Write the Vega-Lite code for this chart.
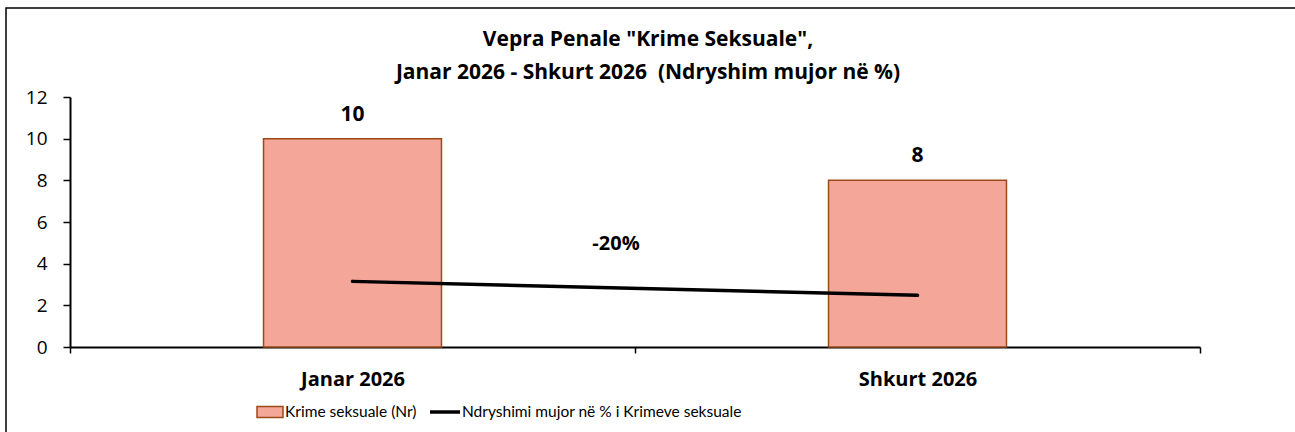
{
  "$schema": "https://vega.github.io/schema/vega-lite/v6.json",
  "width": 1300,
  "height": 430,
  "autosize": "none",
  "padding": {"left": 6, "top": 8, "right": 0, "bottom": 0},
  "background": "white",
  "config": {
    "view": {"stroke": "#000000", "strokeWidth": 1.5},
    "font": "Open Sans",
    "axis": {"labelColor": "#000000", "domainColor": "#000000", "tickColor": "#000000"}
  },
  "title": {
    "text": ["Vepra Penale \"Krime Seksuale\",", "Janar 2026 - Shkurt 2026 \u00a0(Ndryshim mujor në %)"],
    "font": "Open Sans",
    "fontSize": 21,
    "fontWeight": "bold",
    "color": "#000000",
    "anchor": "middle",
    "lineHeight": 33,
    "dx": -8,
    "offset": -75
  },
  "data": {
    "values": [
      {"month": "Janar 2026", "crimes": 10, "change": 3.15, "pct": ""},
      {"month": "Shkurt 2026", "crimes": 8, "change": 2.48, "pct": "-20%"}
    ]
  },
  "encoding": {
    "x": {
      "field": "month",
      "type": "nominal",
      "sort": null,
      "scale": {"range": [64, 1194], "paddingInner": 0, "paddingOuter": 0},
      "axis": {
        "title": null,
        "orient": "bottom",
        "offset": -91,
        "labelAngle": 0,
        "tickBand": "extent",
        "tickSize": 6,
        "tickWidth": 1.5,
        "domainWidth": 2,
        "labelPadding": 16,
        "labelFontSize": 20,
        "labelFontWeight": "bold",
        "labelFont": "Open Sans"
      }
    }
  },
  "layer": [
    {
      "mark": {"type": "bar", "width": {"band": 0.315}, "stroke": "#9C4A1A", "strokeWidth": 1.5, "opacity": 1},
      "encoding": {
        "y": {
          "field": "crimes",
          "type": "quantitative",
          "scale": {"domain": [0, 12], "range": [339, 89], "nice": false},
          "axis": {
            "title": null,
            "values": [0, 2, 4, 6, 8, 10, 12],
            "offset": -64,
            "grid": false,
            "domainWidth": 2,
            "tickSize": 7,
            "tickWidth": 1.5,
            "labelPadding": 16,
            "labelFontSize": 19,
            "labelFont": "Open Sans"
          }
        },
        "fill": {
          "datum": "Krime seksuale (Nr)",
          "type": "nominal",
          "scale": {"range": ["#F4A698"]},
          "legend": {
            "title": null,
            "orient": "none",
            "legendX": 250,
            "legendY": 390,
            "padding": 0,
            "labelFontSize": 15.5,
            "labelFont": "Lato",
            "labelColor": "#000000",
            "labelOffset": 1,
            "labelLimit": 0,
            "symbolType": "M-1,-0.42H1V0.42H-1Z",
            "symbolSize": 676,
            "symbolStrokeColor": "#9C4A1A",
            "symbolStrokeWidth": 1.5,
            "symbolOpacity": 1
          }
        }
      }
    },
    {
      "mark": {"type": "text", "fontSize": 21, "fontWeight": "bold", "font": "Open Sans", "baseline": "middle", "dy": -24, "color": "#000000"},
      "encoding": {
        "y": {"field": "crimes", "type": "quantitative"},
        "text": {"field": "crimes", "type": "quantitative"}
      }
    },
    {
      "mark": {"type": "line", "strokeWidth": 3.5, "strokeCap": "round"},
      "encoding": {
        "y": {"field": "change", "type": "quantitative"},
        "stroke": {
          "datum": "Ndryshimi mujor në % i Krimeve seksuale",
          "type": "nominal",
          "scale": {"range": ["#000000"]},
          "legend": {
            "title": null,
            "orient": "none",
            "legendX": 422,
            "legendY": 387,
            "padding": 0,
            "labelFontSize": 15.5,
            "labelFont": "Lato",
            "labelColor": "#000000",
            "labelOffset": 0,
            "labelLimit": 0,
            "symbolType": "stroke",
            "symbolSize": 900,
            "symbolStrokeWidth": 3.5,
            "symbolOpacity": 1
          }
        }
      }
    },
    {
      "transform": [{"filter": "datum.pct != ''"}],
      "mark": {"type": "text", "fontSize": 20, "fontWeight": "bold", "font": "Open Sans", "baseline": "middle", "dx": -19, "color": "#000000"},
      "encoding": {
        "x": {"field": "month", "type": "nominal", "sort": null, "bandPosition": 0},
        "y": {"datum": 4.95, "type": "quantitative"},
        "text": {"field": "pct", "type": "nominal"}
      }
    }
  ]
}
